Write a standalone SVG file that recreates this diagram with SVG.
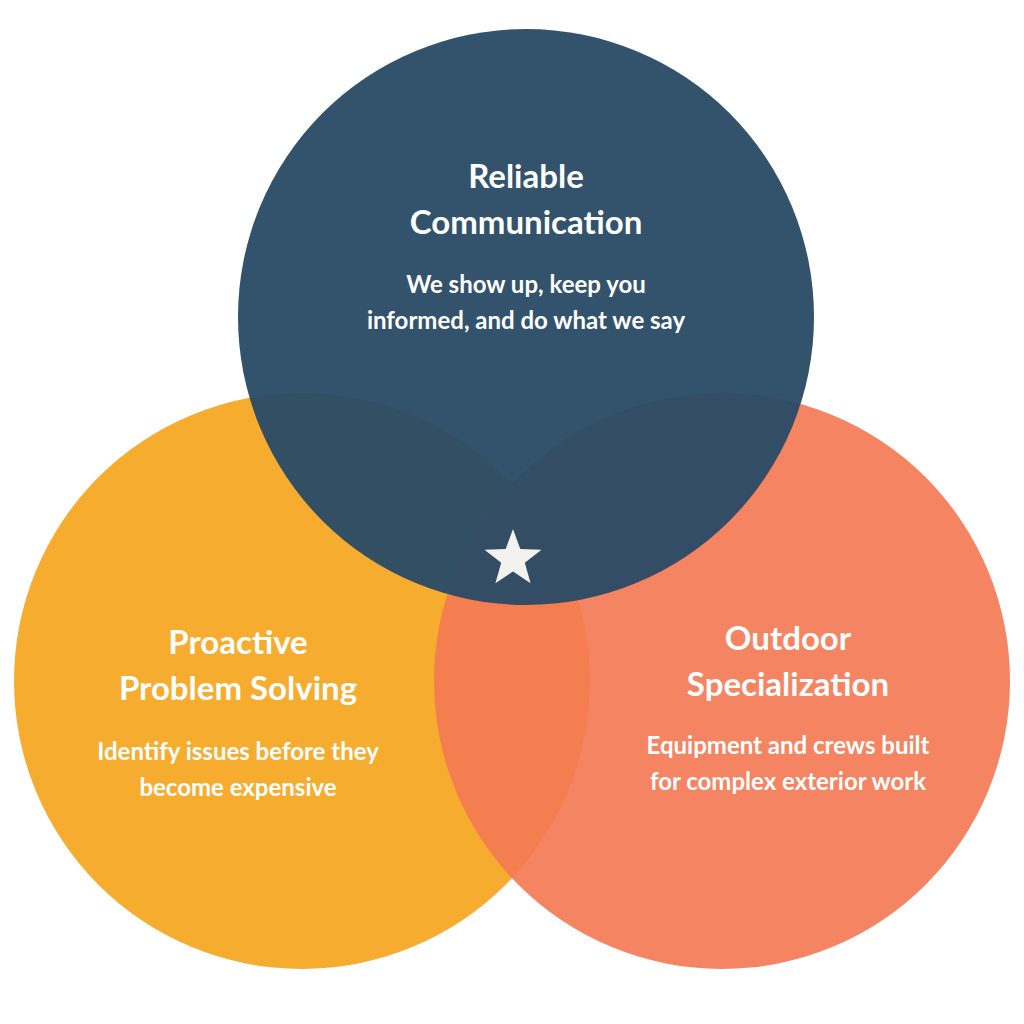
<svg xmlns="http://www.w3.org/2000/svg" width="1024" height="1024" viewBox="0 0 1024 1024">
<style>
.t{font-family:"Lato","Open Sans","Liberation Sans",sans-serif;font-weight:700;fill:#fff;text-anchor:middle}
.h{font-size:33px}
.b{font-size:24px}
</style>
<rect width="1024" height="1024" fill="#fff"/>
<g id="node-proactive">
<circle cx="302" cy="681" r="288" fill="#f6ad2f"/>
</g>
<g id="node-outdoor">
<circle cx="722" cy="681" r="288" fill="#f47a55" fill-opacity="0.92"/>
</g>
<g id="node-reliable">
<circle cx="526" cy="317" r="288" fill="#2b4b66" fill-opacity="0.96"/>
</g>
<g id="labels">
<text class="t h" x="526" y="188">Reliable</text>
<text class="t h" x="526" y="234">Communication</text>
<text class="t b" x="526" y="293">We show up, keep you</text>
<text class="t b" x="526" y="329">informed, and do what we say</text>
<text class="t h" x="238" y="654">Proactive</text>
<text class="t h" x="238" y="700">Problem Solving</text>
<text class="t b" x="238" y="760">Identify issues before they</text>
<text class="t b" x="238" y="796">become expensive</text>
<text class="t h" x="788" y="650">Outdoor</text>
<text class="t h" x="788" y="696">Specialization</text>
<text class="t b" x="788" y="754">Equipment and crews built</text>
<text class="t b" x="788" y="790">for complex exterior work</text>
</g>
<g id="star">
<polygon points="513,529 520.3,548.9 541.5,549.7 524.8,562.8 530.6,583.2 513,571.4 495.4,583.2 501.2,562.8 484.5,549.7 505.7,548.9" fill="#f2f2ef"/>
</g>
</svg>
